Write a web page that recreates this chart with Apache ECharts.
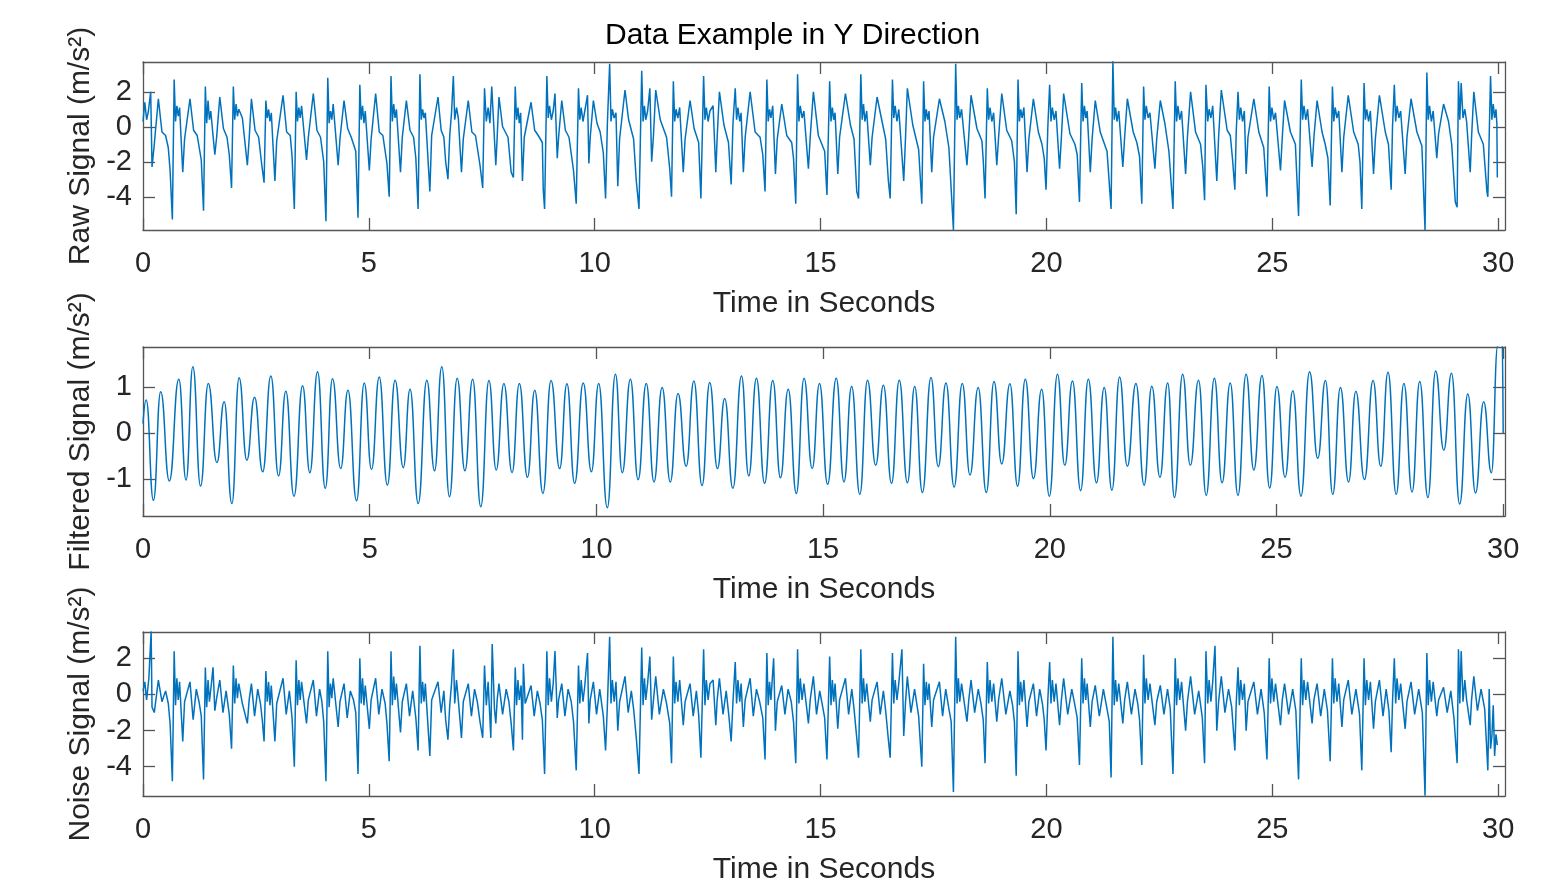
<!DOCTYPE html>
<html>
<head>
<meta charset="utf-8">
<title>Data Example in Y Direction</title>
<script src="https://cdn.jsdelivr.net/npm/echarts@6/dist/echarts.min.js"></script>
<style>
  html, body { margin: 0; padding: 0; background: #fff; }
  #main { width: 1560px; height: 886px; }
</style>
</head>
<body>
<div id="main"></div>
<script>
// tick labels
const timeTicks = [0, 5, 10, 15, 20, 25, 30];
const rawTicks = [-4, -2, 0, 2];
const filteredTicks = [-1, 0, 1];
const noiseTicks = [-4, -2, 0, 2];

// [time in s, acceleration in m/s^2]
const rawSignal = [
  [0.00,0.3],[0.04,1.4],[0.08,0.4],[0.12,0.9],[0.17,2.0],[0.20,-2.3],[0.25,-1.0],[0.34,1.6],[0.42,-0.3],[0.50,-0.5],[0.56,-1.2],
  [0.60,-2.5],[0.65,-5.3],[0.69,2.7],[0.72,0.3],[0.75,1.2],[0.78,0.6],[0.81,1.1],[0.88,-2.6],[0.92,-0.7],[1.04,1.6],[1.12,-0.2],[1.20,-0.5],
  [1.29,-1.9],[1.34,-4.8],[1.38,2.3],[1.41,0.2],[1.44,1.5],[1.47,0.4],[1.50,0.9],[1.59,-1.6],[1.63,-0.6],[1.70,1.7],[1.78,-0.1],[1.86,-0.6],
  [1.91,-1.6],[1.96,-3.5],[2.00,2.3],[2.03,0.4],[2.06,1.3],[2.09,0.6],[2.12,1.0],[2.20,0.5],[2.31,-2.2],[2.35,-0.7],[2.40,1.6],[2.48,-0.2],[2.56,-0.6],
  [2.63,-2.2],[2.68,-3.2],[2.72,1.5],[2.75,0.5],[2.78,1.0],[2.81,0.3],[2.84,0.8],[2.92,-3.1],[2.96,-0.8],[3.10,1.8],[3.18,-0.3],[3.26,-0.5],
  [3.30,-1.7],[3.35,-4.7],[3.39,2.0],[3.42,0.3],[3.45,1.1],[3.48,0.5],[3.51,1.2],[3.62,-1.9],[3.66,-0.6],[3.77,1.9],[3.85,-0.2],[3.93,-0.6],
  [4.00,-2.0],[4.05,-5.4],[4.09,2.8],[4.12,0.2],[4.15,0.9],[4.18,0.4],[4.21,1.3],[4.32,-2.2],[4.36,-0.7],[4.45,1.5],[4.53,-0.1],[4.61,-0.6],
  [4.71,-1.4],[4.76,-5.2],[4.80,2.4],[4.83,0.4],[4.86,1.2],[4.89,0.2],[4.92,0.9],[5.01,-2.5],[5.05,-0.7],[5.15,1.9],[5.23,-0.3],[5.31,-0.5],
  [5.40,-2.1],[5.45,-4.0],[5.49,2.9],[5.52,0.3],[5.55,1.3],[5.58,0.5],[5.61,1.0],[5.70,-2.6],[5.74,-0.6],[5.83,1.5],[5.91,-0.2],[5.99,-0.6],
  [6.04,-1.8],[6.09,-4.7],[6.13,3.0],[6.16,0.4],[6.19,1.0],[6.22,0.5],[6.25,0.8],[6.35,-3.7],[6.39,-0.5],[6.53,1.7],[6.60,-0.2],[6.66,-0.6],
  [6.70,-2.0],[6.75,-3.0],[6.79,-0.5],[6.83,0.8],[6.87,2.9],[6.90,0.4],[6.94,1.1],[6.98,0.5],[7.05,-2.6],[7.09,-0.7],[7.20,1.5],[7.28,-0.3],[7.36,-0.5],
  [7.46,-2.2],[7.52,-3.5],[7.56,2.2],[7.60,0.3],[7.64,1.1],[7.68,0.2],[7.72,2.3],[7.81,-2.2],[7.84,-0.6],[7.88,1.7],[7.96,0.0],[8.08,-0.6],
  [8.15,-2.6],[8.20,-2.9],[8.24,2.3],[8.27,0.4],[8.30,1.1],[8.33,0.2],[8.36,0.8],[8.40,-3.1],[8.44,-0.6],[8.59,1.4],[8.67,-0.2],[8.75,-0.5],
  [8.84,-0.9],[8.86,-3.6],[8.89,-4.7],[8.94,2.9],[8.97,0.5],[9.00,1.2],[9.04,0.4],[9.08,0.9],[9.12,1.9],[9.17,-1.8],[9.20,-0.6],[9.27,1.5],[9.35,-0.2],[9.43,-0.6],
  [9.53,-2.5],[9.59,-4.4],[9.64,2.2],[9.67,0.4],[9.70,1.1],[9.74,0.3],[9.78,0.9],[9.84,1.8],[9.87,-2.1],[9.90,-0.6],[9.97,1.5],[10.05,0.2],[10.12,-0.3],
  [10.19,-1.5],[10.24,-4.1],[10.28,0.2],[10.33,3.6],[10.36,0.3],[10.39,1.0],[10.43,0.5],[10.47,0.8],[10.51,-3.4],[10.55,-0.7],[10.67,2.1],[10.75,0.4],
  [10.86,-0.7],[10.92,-3.1],[10.98,-4.7],[11.04,3.2],[11.07,0.3],[11.10,1.2],[11.13,0.4],[11.17,0.9],[11.22,2.2],[11.26,-2.0],[11.30,-0.5],[11.35,2.1],[11.45,0.4],[11.59,-0.6],
  [11.66,-2.4],[11.70,-4.0],[11.74,2.6],[11.77,0.3],[11.80,1.0],[11.84,0.5],[11.88,1.1],[11.96,-2.6],[12.00,-0.7],[12.11,1.5],[12.20,-0.1],
  [12.30,-0.9],[12.35,-4.1],[12.41,2.9],[12.44,0.4],[12.47,1.1],[12.51,0.3],[12.55,0.9],[12.62,1.2],[12.68,-2.6],[12.71,-0.6],[12.76,2.0],[12.86,0.1],
  [12.96,-0.9],[13.02,-3.3],[13.06,0.2],[13.11,2.2],[13.14,0.4],[13.17,1.1],[13.21,0.3],[13.24,0.8],[13.29,-2.6],[13.33,-0.6],[13.44,2.0],[13.55,-0.3],[13.66,-0.6],
  [13.72,-1.6],[13.77,-3.7],[13.81,2.7],[13.84,0.3],[13.87,1.0],[13.90,0.5],[13.94,1.2],[14.00,-2.7],[14.04,-0.7],[14.14,1.3],[14.25,-0.5],[14.36,-0.9],
  [14.40,-1.8],[14.45,-4.4],[14.49,3.0],[14.52,0.3],[14.55,1.2],[14.59,0.5],[14.63,0.9],[14.73,-2.4],[14.77,-0.6],[14.84,2.0],[14.95,-0.5],[15.09,-1.4],
  [15.14,-3.9],[15.20,2.6],[15.23,0.3],[15.26,1.1],[15.29,0.4],[15.32,0.8],[15.38,-2.7],[15.42,-0.6],[15.55,1.9],[15.66,0.1],[15.74,-0.7],
  [15.80,-3.7],[15.84,-4.1],[15.89,3.0],[15.92,0.4],[15.95,1.3],[15.98,0.3],[16.02,0.9],[16.10,-2.2],[16.14,-0.6],[16.25,1.7],[16.36,0.3],[16.44,-0.7],
  [16.50,-3.1],[16.54,-4.1],[16.59,2.7],[16.62,0.5],[16.65,1.2],[16.69,0.3],[16.73,1.0],[16.84,-3.1],[16.88,-0.6],[16.92,2.2],[17.04,0.1],[17.17,-1.3],
  [17.24,-4.4],[17.28,2.6],[17.31,0.3],[17.34,1.0],[17.37,0.4],[17.40,0.9],[17.46,-2.6],[17.50,-0.6],[17.63,1.6],[17.75,0.3],[17.84,-1.2],
  [17.94,-5.9],[17.99,3.6],[18.02,0.4],[18.05,1.2],[18.08,0.5],[18.12,1.0],[18.24,-2.2],[18.28,-0.5],[18.33,1.8],[18.46,-0.1],[18.57,-0.8],
  [18.60,-1.9],[18.64,-4.1],[18.69,2.2],[18.72,0.4],[18.75,1.1],[18.79,0.3],[18.83,0.8],[18.90,-2.2],[18.94,-0.6],[19.01,1.9],[19.12,-0.2],[19.23,-0.8],
  [19.29,-2.0],[19.33,-5.0],[19.37,2.7],[19.40,0.3],[19.43,1.0],[19.46,0.5],[19.50,1.1],[19.57,-2.6],[19.61,-0.7],[19.71,1.6],[19.82,-0.3],[19.90,-1.0],
  [19.95,-1.8],[19.99,-3.6],[20.03,0.0],[20.07,2.4],[20.10,0.3],[20.13,1.1],[20.17,0.4],[20.21,0.9],[20.29,-2.4],[20.33,-0.6],[20.38,1.9],[20.52,-0.4],[20.63,-1.0],
  [20.68,-1.6],[20.73,-4.3],[20.78,2.5],[20.81,0.3],[20.84,1.2],[20.87,0.5],[20.90,0.9],[20.97,-2.6],[21.01,-0.7],[21.08,1.5],[21.19,-0.3],[21.34,-1.4],
  [21.43,-4.7],[21.47,3.8],[21.50,0.4],[21.53,1.1],[21.56,0.3],[21.60,0.9],[21.69,-2.3],[21.73,-0.6],[21.79,1.6],[21.92,-0.3],[22.00,-0.9],
  [22.06,-1.7],[22.11,-4.4],[22.15,2.3],[22.18,0.4],[22.21,1.2],[22.25,0.5],[22.29,0.8],[22.40,-2.4],[22.44,-0.7],[22.52,1.5],[22.62,0.2],[22.71,-1.4],
  [22.80,-4.7],[22.85,2.6],[22.88,0.3],[22.91,1.2],[22.95,0.4],[22.99,0.9],[23.08,-2.7],[23.12,-0.6],[23.19,2.0],[23.30,-0.3],[23.41,-1.0],
  [23.46,-2.3],[23.50,-4.2],[23.53,2.4],[23.57,0.3],[23.60,1.0],[23.64,0.5],[23.68,1.2],[23.77,-3.1],[23.81,-0.6],[23.87,2.1],[24.00,-0.2],[24.07,-0.5],
  [24.12,-1.9],[24.17,-3.6],[24.20,-0.3],[24.24,2.0],[24.27,0.4],[24.30,1.1],[24.34,0.3],[24.38,0.9],[24.42,-2.7],[24.46,-0.6],[24.59,1.6],[24.70,-0.3],[24.81,-1.2],
  [24.88,-4.0],[24.93,2.3],[24.96,0.3],[24.99,1.1],[25.03,0.4],[25.07,0.8],[25.18,-2.5],[25.22,-0.6],[25.27,1.5],[25.40,-0.3],[25.51,-1.0],
  [25.58,-5.1],[25.64,2.7],[25.67,0.4],[25.70,1.2],[25.74,0.4],[25.78,1.0],[25.88,-2.3],[25.92,-0.6],[25.99,1.5],[26.10,-0.3],[26.17,-1.0],
  [26.23,-1.8],[26.28,-4.5],[26.33,2.3],[26.36,0.3],[26.39,1.1],[26.43,0.5],[26.47,0.9],[26.54,-2.6],[26.58,-0.6],[26.68,1.8],[26.80,-0.3],[26.90,-1.0],
  [26.94,-2.0],[26.98,-4.7],[27.03,2.5],[27.06,0.4],[27.09,1.0],[27.13,0.3],[27.17,0.9],[27.24,-2.7],[27.28,-0.7],[27.37,1.8],[27.50,-0.3],[27.57,-1.0],
  [27.63,-3.6],[27.66,0.0],[27.70,2.4],[27.73,0.3],[27.76,1.2],[27.80,0.5],[27.84,0.9],[27.94,-2.7],[27.98,-0.6],[28.07,1.6],[28.20,-0.3],[28.31,-1.1],
  [28.38,-5.9],[28.42,3.1],[28.45,0.4],[28.48,1.2],[28.52,0.3],[28.56,0.9],[28.64,-1.8],[28.68,-0.4],[28.79,1.3],[28.90,0.3],[28.97,-1.0],
  [29.05,-4.3],[29.09,-4.6],[29.12,2.6],[29.15,0.4],[29.18,2.5],[29.22,0.5],[29.26,1.0],[29.30,0.3],[29.38,-2.6],[29.41,-0.6],[29.46,2.0],[29.56,-0.3],[29.67,-1.0],
  [29.75,-3.7],[29.77,-4.0],[29.83,2.9],[29.86,0.4],[29.89,1.3],[29.92,0.5],[29.95,1.0],[29.97,0.2],[29.98,-2.9]
];

// peaks and troughs of the band-passed signal
const filteredSignal = [
  [0.00,0.21],[0.07,0.72],[0.23,-1.46],[0.39,0.90],[0.58,-1.04],[0.79,1.17],[0.95,-1.02],[1.10,1.44],[1.27,-1.15],[1.44,1.08],
  [1.63,-0.64],[1.79,0.68],[1.96,-1.53],[2.12,1.20],[2.29,-0.59],[2.46,0.78],[2.64,-0.84],[2.82,1.24],[2.99,-0.93],[3.15,0.91],
  [3.33,-1.37],[3.52,1.03],[3.68,-0.86],[3.85,1.33],[4.02,-1.20],[4.18,1.18],[4.36,-0.77],[4.52,0.93],[4.71,-1.47],[4.88,1.09],
  [5.04,-0.79],[5.21,1.22],[5.39,-1.13],[5.56,1.15],[5.74,-0.75],[5.89,0.95],[6.07,-1.53],[6.26,1.15],[6.43,-0.82],[6.59,1.44],
  [6.76,-1.38],[6.93,1.19],[7.10,-0.82],[7.27,1.17],[7.45,-1.60],[7.63,1.14],[7.79,-0.80],[7.96,1.08],[8.14,-0.86],[8.30,1.08],
  [8.48,-0.96],[8.64,0.93],[8.82,-1.31],[9.00,1.14],[9.19,-0.77],[9.35,1.07],[9.52,-1.09],[9.71,1.09],[9.89,-0.84],[10.05,1.08],
  [10.24,-1.62],[10.42,1.28],[10.57,-0.86],[10.75,1.17],[10.92,-1.01],[11.10,1.08],[11.27,-1.06],[11.45,0.99],[11.63,-1.06],[11.80,0.86],
  [11.98,-0.72],[12.15,1.13],[12.33,-1.14],[12.50,1.10],[12.67,-0.77],[12.83,0.75],[13.01,-1.20],[13.20,1.24],[13.36,-0.93],[13.53,1.19],
  [13.71,-1.09],[13.89,1.14],[14.06,-0.97],[14.23,0.95],[14.41,-1.31],[14.58,1.19],[14.76,-0.77],[14.92,1.08],[15.10,-1.11],[15.29,1.19],
  [15.46,-1.06],[15.63,1.01],[15.81,-1.33],[15.98,1.15],[16.16,-0.70],[16.33,1.04],[16.51,-1.09],[16.68,1.15],[16.86,-1.08],[17.02,1.01],
  [17.19,-1.29],[17.38,1.21],[17.54,-0.73],[17.71,1.09],[17.89,-1.17],[18.07,1.08],[18.24,-0.91],[18.42,0.99],[18.60,-1.29],[18.77,1.12],
  [18.94,-0.67],[19.12,1.07],[19.29,-1.15],[19.46,1.17],[19.64,-0.99],[19.82,0.95],[19.99,-1.37],[20.17,1.28],[20.33,-0.70],[20.50,1.13],
  [20.68,-1.25],[20.85,1.17],[21.03,-1.08],[21.20,0.99],[21.37,-1.24],[21.54,1.22],[21.71,-0.72],[21.90,1.08],[22.08,-1.13],[22.25,1.02],
  [22.43,-0.96],[22.60,1.09],[22.75,-1.40],[22.93,1.28],[23.10,-0.70],[23.28,1.15],[23.45,-1.35],[23.63,1.19],[23.80,-1.08],[23.98,1.09],
  [24.15,-1.35],[24.33,1.28],[24.50,-0.80],[24.68,1.25],[24.85,-1.19],[25.01,1.01],[25.19,-0.96],[25.36,0.92],[25.54,-1.37],[25.73,1.33],
  [25.91,-0.55],[26.08,1.14],[26.24,-1.33],[26.41,0.99],[26.59,-1.06],[26.75,0.91],[26.94,-1.01],[27.13,1.14],[27.30,-0.72],[27.46,1.32],
  [27.64,-1.33],[27.81,1.08],[27.99,-1.28],[28.16,1.12],[28.34,-1.40],[28.51,1.35],[28.69,-0.37],[28.86,1.30],[29.04,-1.54],[29.22,0.85],
  [29.39,-1.30],[29.57,0.68],[29.74,-0.86],[29.88,1.90],[29.97,2.40],[30.00,0.00]
];

const noiseSignal = [
  [0.00,0.2],[0.04,0.7],[0.08,-0.3],[0.13,0.9],[0.18,3.5],[0.20,-0.7],[0.25,-1.0],[0.34,0.8],[0.42,-0.4],[0.50,0.2],[0.56,-0.5],
  [0.60,-1.6],[0.65,-4.8],[0.69,2.4],[0.72,-0.6],[0.75,0.9],[0.78,-0.3],[0.81,0.7],[0.88,-2.6],[0.92,-0.4],[1.04,0.7],[1.11,-1.4],[1.18,0.3],[1.24,-0.4],
  [1.29,-1.2],[1.34,-4.7],[1.38,1.5],[1.41,-0.7],[1.44,0.8],[1.47,-0.4],[1.51,0.5],[1.55,1.5],[1.59,-0.9],[1.63,-0.2],[1.70,0.8],[1.77,-1.0],[1.84,0.2],
  [1.91,-1.1],[1.96,-3.0],[2.00,1.6],[2.03,-0.5],[2.06,0.9],[2.09,-0.2],[2.12,0.6],[2.20,-0.5],[2.31,-1.6],[2.35,-0.3],[2.40,0.6],[2.47,-1.2],[2.54,0.3],[2.60,-0.5],
  [2.64,-1.4],[2.68,-2.6],[2.72,1.3],[2.75,-0.4],[2.78,0.7],[2.81,-0.6],[2.84,0.5],[2.92,-2.6],[2.96,-0.5],[3.10,0.9],[3.17,-1.1],[3.24,0.2],
  [3.30,-1.3],[3.35,-4.0],[3.39,1.9],[3.42,-0.6],[3.45,0.8],[3.48,-0.3],[3.51,0.7],[3.62,-1.6],[3.66,-0.3],[3.77,0.8],[3.84,-1.2],[3.91,0.3],[3.96,-0.4],
  [4.00,-1.5],[4.05,-4.8],[4.09,2.4],[4.12,-0.7],[4.15,0.6],[4.18,-0.2],[4.21,0.9],[4.32,-1.8],[4.36,-0.4],[4.45,0.6],[4.52,-1.3],[4.59,0.2],[4.66,-0.3],
  [4.71,-1.0],[4.76,-4.4],[4.80,2.0],[4.83,-0.5],[4.86,0.9],[4.89,-0.6],[4.92,0.5],[5.01,-1.9],[5.05,-0.3],[5.15,0.9],[5.22,-1.1],[5.29,0.3],[5.36,-0.5],
  [5.40,-1.6],[5.45,-3.7],[5.49,2.4],[5.52,-0.6],[5.55,1.0],[5.58,-0.3],[5.61,0.6],[5.70,-2.1],[5.74,-0.4],[5.83,0.6],[5.90,-1.2],[5.97,0.2],
  [6.04,-1.3],[6.09,-3.1],[6.13,2.7],[6.16,-0.5],[6.19,0.7],[6.22,-0.4],[6.25,0.6],[6.35,-3.4],[6.39,-0.3],[6.53,0.7],[6.60,-1.0],[6.66,0.2],
  [6.70,-1.4],[6.75,-2.5],[6.79,-0.6],[6.83,0.6],[6.87,2.5],[6.90,-0.5],[6.94,0.8],[6.98,-0.3],[7.05,-2.4],[7.09,-0.4],[7.20,0.6],[7.27,-1.2],[7.34,0.3],[7.40,-0.4],
  [7.46,-1.5],[7.52,-2.4],[7.56,1.6],[7.60,-0.6],[7.64,0.7],[7.70,-2.4],[7.73,2.8],[7.78,-0.8],[7.81,-1.6],[7.84,-0.3],[7.88,0.6],[7.96,-1.1],[8.04,0.3],[8.10,-0.4],
  [8.15,-1.6],[8.20,-3.1],[8.24,1.5],[8.27,-0.6],[8.30,0.8],[8.33,-0.3],[8.37,0.5],[8.40,-2.5],[8.42,1.7],[8.46,-0.5],[8.59,0.5],[8.66,-1.2],[8.73,0.2],[8.79,-0.5],
  [8.84,-1.4],[8.89,-4.4],[8.94,2.4],[8.97,-0.6],[9.00,0.9],[9.04,-0.4],[9.08,0.6],[9.12,2.4],[9.17,-1.3],[9.20,-0.3],[9.27,0.6],[9.34,-1.2],[9.41,0.3],[9.48,-0.4],
  [9.53,-1.5],[9.59,-4.2],[9.64,1.6],[9.67,-0.5],[9.70,0.8],[9.74,-0.4],[9.78,0.5],[9.84,2.3],[9.87,-1.6],[9.90,-0.3],[9.97,0.7],[10.04,-1.1],[10.11,0.3],
  [10.19,-1.2],[10.24,-3.1],[10.28,-0.6],[10.33,3.2],[10.36,-0.5],[10.39,0.8],[10.43,-0.4],[10.47,0.7],[10.51,-2.0],[10.55,-0.4],[10.67,1.0],[10.74,-1.0],[10.81,0.2],
  [10.86,-0.8],[10.92,-2.4],[10.98,-4.4],[11.04,2.6],[11.07,-0.6],[11.10,0.9],[11.13,-0.3],[11.17,0.6],[11.22,2.1],[11.26,-1.4],[11.30,-0.3],[11.35,1.0],[11.43,-1.1],[11.52,0.3],[11.59,-0.5],
  [11.66,-1.6],[11.70,-3.8],[11.74,2.1],[11.77,-0.5],[11.80,0.7],[11.84,-0.4],[11.88,0.8],[11.96,-1.7],[12.00,-0.4],[12.11,0.6],[12.18,-1.2],[12.25,0.2],
  [12.30,-1.1],[12.35,-3.5],[12.41,2.5],[12.44,-0.6],[12.47,0.8],[12.51,-0.3],[12.55,0.6],[12.62,0.8],[12.68,-1.7],[12.71,-0.3],[12.76,0.9],[12.84,-1.1],[12.91,0.2],
  [12.97,-1.2],[13.02,-2.6],[13.06,-0.4],[13.11,1.8],[13.14,-0.5],[13.17,0.8],[13.21,-0.4],[13.24,0.6],[13.29,-1.8],[13.33,-0.3],[13.44,0.9],[13.51,-1.2],[13.58,0.3],[13.65,-0.4],
  [13.72,-1.3],[13.77,-3.6],[13.81,2.3],[13.84,-0.6],[13.87,0.7],[13.90,-0.3],[13.96,2.0],[14.00,-2.0],[14.04,-0.4],[14.14,0.5],[14.21,-1.1],[14.28,0.3],[14.35,-0.4],
  [14.40,-1.5],[14.45,-3.8],[14.49,2.5],[14.52,-0.5],[14.55,0.9],[14.59,-0.3],[14.63,0.6],[14.73,-1.6],[14.77,-0.3],[14.84,1.0],[14.91,-1.1],[14.98,0.2],[15.04,-0.6],
  [15.09,-1.3],[15.14,-3.6],[15.20,2.1],[15.23,-0.6],[15.26,0.8],[15.29,-0.4],[15.32,0.6],[15.38,-1.9],[15.42,-0.3],[15.55,0.9],[15.62,-1.1],[15.69,0.3],
  [15.74,-0.8],[15.80,-2.4],[15.84,-3.5],[15.89,2.5],[15.92,-0.5],[15.95,0.9],[15.98,-0.4],[16.02,0.6],[16.10,-1.5],[16.14,-0.3],[16.25,0.7],[16.32,-1.1],[16.39,0.2],
  [16.44,-0.9],[16.50,-2.5],[16.54,-3.5],[16.59,2.3],[16.62,-0.5],[16.65,0.8],[16.69,-0.3],[16.73,0.6],[16.80,2.5],[16.84,-2.3],[16.88,-0.4],[16.92,1.0],[17.00,-1.0],[17.08,0.3],
  [17.17,-1.2],[17.24,-4.0],[17.28,1.7],[17.31,-0.6],[17.34,0.7],[17.37,-0.3],[17.40,0.6],[17.46,-1.8],[17.50,-0.3],[17.63,0.7],[17.70,-1.2],[17.77,0.3],[17.84,-0.8],
  [17.89,-1.5],[17.94,-5.4],[17.99,3.2],[18.02,-0.5],[18.05,0.9],[18.08,-0.4],[18.12,0.6],[18.24,-1.5],[18.28,-0.3],[18.33,0.8],[18.41,-1.0],[18.49,0.3],[18.55,-0.5],
  [18.60,-1.4],[18.64,-3.8],[18.69,1.8],[18.72,-0.5],[18.75,0.8],[18.79,-0.4],[18.83,0.6],[18.90,-1.5],[18.94,-0.3],[19.01,0.9],[19.10,-1.1],[19.19,0.2],[19.25,-0.6],
  [19.29,-1.5],[19.33,-4.5],[19.37,2.4],[19.40,-0.6],[19.43,0.7],[19.46,-0.4],[19.50,0.8],[19.57,-1.8],[19.61,-0.4],[19.71,0.6],[19.78,-1.2],[19.85,0.3],[19.91,-0.5],
  [19.95,-1.4],[19.99,-3.1],[20.03,-0.3],[20.07,1.8],[20.10,-0.5],[20.13,0.8],[20.17,-0.4],[20.21,0.6],[20.29,-1.7],[20.33,-0.3],[20.38,0.9],[20.47,-1.1],[20.56,0.3],[20.63,-0.6],
  [20.68,-1.3],[20.73,-3.9],[20.78,2.0],[20.81,-0.5],[20.84,0.9],[20.87,-0.3],[20.90,0.6],[20.97,-1.8],[21.01,-0.4],[21.08,0.5],[21.17,-1.2],[21.26,0.3],[21.34,-0.8],
  [21.39,-1.5],[21.43,-4.6],[21.47,3.2],[21.50,-0.6],[21.53,0.8],[21.56,-0.4],[21.60,0.6],[21.69,-1.6],[21.73,-0.3],[21.79,0.7],[21.88,-1.1],[21.96,0.3],[22.02,-0.5],
  [22.06,-1.4],[22.11,-3.9],[22.15,2.2],[22.18,-0.5],[22.21,0.9],[22.25,-0.3],[22.29,0.6],[22.40,-1.7],[22.44,-0.4],[22.52,0.5],[22.60,-1.1],[22.68,0.3],[22.74,-0.8],
  [22.80,-4.4],[22.85,2.0],[22.88,-0.6],[22.91,0.9],[22.95,-0.3],[22.99,0.7],[23.08,-2.0],[23.12,-0.4],[23.19,1.0],[23.28,-1.1],[23.37,0.2],[23.45,-1.3],
  [23.50,-3.8],[23.53,2.4],[23.57,-0.5],[23.60,0.8],[23.64,-0.4],[23.68,0.7],[23.73,2.7],[23.77,-2.0],[23.81,-0.4],[23.87,1.0],[23.95,-1.0],[24.03,0.3],[24.10,-0.7],
  [24.17,-3.1],[24.20,-0.5],[24.24,1.5],[24.27,-0.6],[24.30,0.8],[24.34,-0.3],[24.38,0.6],[24.42,-2.0],[24.46,-0.4],[24.59,0.7],[24.67,-1.1],[24.75,0.3],[24.82,-1.0],
  [24.88,-3.6],[24.93,2.0],[24.96,-0.5],[24.99,0.9],[25.03,-0.4],[25.07,0.6],[25.18,-1.7],[25.22,-0.3],[25.27,0.6],[25.36,-1.1],[25.45,0.3],[25.52,-0.9],
  [25.58,-4.7],[25.64,2.0],[25.67,-0.6],[25.70,0.8],[25.74,-0.3],[25.78,0.7],[25.88,-1.6],[25.92,-0.3],[25.99,0.6],[26.07,-1.2],[26.15,0.3],[26.22,-0.9],
  [26.28,-3.7],[26.33,2.0],[26.36,-0.5],[26.39,0.9],[26.43,-0.4],[26.47,0.6],[26.54,-1.8],[26.58,-0.3],[26.68,0.8],[26.76,-1.1],[26.85,0.3],[26.93,-1.1],
  [26.98,-4.2],[27.03,2.0],[27.06,-0.6],[27.09,0.8],[27.13,-0.3],[27.17,0.7],[27.24,-1.9],[27.28,-0.4],[27.37,0.8],[27.45,-1.2],[27.52,0.3],[27.58,-0.9],
  [27.63,-3.2],[27.66,-0.4],[27.70,2.0],[27.73,-0.5],[27.76,0.9],[27.80,-0.3],[27.84,0.6],[27.94,-1.9],[27.98,-0.4],[28.07,0.7],[28.15,-1.1],[28.24,0.3],[28.32,-1.0],
  [28.38,-5.6],[28.42,2.3],[28.45,-0.6],[28.48,0.8],[28.52,-0.4],[28.56,0.7],[28.64,-1.2],[28.68,-0.3],[28.79,0.4],[28.87,-1.0],[28.95,0.2],[29.02,-1.3],
  [29.09,-3.8],[29.12,2.5],[29.15,-0.5],[29.18,2.4],[29.22,-0.4],[29.26,0.8],[29.30,-0.3],[29.38,-1.7],[29.41,-0.3],[29.46,1.0],[29.54,-0.9],[29.62,0.3],[29.70,-0.8],
  [29.77,-4.2],[29.80,0.3],[29.83,-3.0],[29.86,-2.3],[29.89,-0.6],[29.92,-3.4],[29.95,-2.2],[29.98,-2.8]
];

const FONT = '"Liberation Sans", Arial, Helvetica, sans-serif';
const AXIS_COLOR = '#555555';
const TEXT_COLOR = '#262626';
const LINE_COLOR = '#0072BD';

const panels = [
  { yName: 'Raw Signal (m/s²)', data: rawSignal, smooth: false, yMin: -5.9, yMax: 3.7, yTicks: rawTicks, xMax: 30.15, top: 62, height: 168 },
  { yName: 'Filtered Signal (m/s²)', data: filteredSignal, smooth: 0.5, yMin: -1.8, yMax: 1.87, yTicks: filteredTicks, xMax: 30.04, top: 347, height: 169 },
  { yName: 'Noise Signal (m/s²)', data: noiseSignal, smooth: false, yMin: -5.62, yMax: 3.46, yTicks: noiseTicks, xMax: 30.15, top: 632, height: 168 }
];

const axisLine = { show: true, onZero: false, lineStyle: { color: AXIS_COLOR, width: 1.3 } };

function tick(values) {
  return { show: true, inside: true, length: 12, customValues: values, lineStyle: { color: AXIS_COLOR, width: 1.3 } };
}

let grid = [], xAxis = [], yAxis = [], series = [];
panels.forEach((p, i) => {
  grid.push({ left: 143, width: 1362, top: p.top, height: p.height });
  // bottom axis with labels, top axis only for the box and ticks
  xAxis.push({
    type: 'value', gridIndex: i, position: 'bottom', min: 0, max: p.xMax,
    name: 'Time in Seconds', nameLocation: 'middle', nameGap: 59,
    nameTextStyle: { fontFamily: FONT, fontSize: 30, color: TEXT_COLOR },
    axisLine: axisLine, axisTick: tick(timeTicks), splitLine: { show: false },
    axisLabel: { customValues: timeTicks, margin: 19, fontFamily: FONT, fontSize: 29, color: TEXT_COLOR }
  });
  xAxis.push({
    type: 'value', gridIndex: i, position: 'top', min: 0, max: p.xMax,
    axisLine: axisLine, axisTick: tick(timeTicks), splitLine: { show: false }, axisLabel: { show: false }
  });
  yAxis.push({
    type: 'value', gridIndex: i, position: 'left', min: p.yMin, max: p.yMax,
    name: p.yName, nameLocation: 'middle', nameGap: 47,
    nameTextStyle: { fontFamily: FONT, fontSize: 30, color: TEXT_COLOR },
    axisLine: axisLine, axisTick: tick(p.yTicks), splitLine: { show: false },
    axisLabel: { customValues: p.yTicks, margin: 11, fontFamily: FONT, fontSize: 29, color: TEXT_COLOR }
  });
  yAxis.push({
    type: 'value', gridIndex: i, position: 'right', min: p.yMin, max: p.yMax,
    axisLine: axisLine, axisTick: tick(p.yTicks), splitLine: { show: false }, axisLabel: { show: false }
  });
  series.push({
    type: 'line', xAxisIndex: 2 * i, yAxisIndex: 2 * i, data: p.data,
    smooth: p.smooth, smoothMonotone: 'x', showSymbol: false, symbol: 'none', clip: true,
    lineStyle: { color: LINE_COLOR, width: 1.5 }
  });
});

let chart = echarts.init(document.getElementById('main'));
let option = {
  backgroundColor: '#ffffff',
  animation: false,
  title: {
    text: 'Data Example in Y Direction', left: 605, top: 21, padding: 0,
    textStyle: { fontFamily: FONT, fontSize: 30, fontWeight: 'normal', color: '#000000' }
  },
  grid: grid,
  xAxis: xAxis,
  yAxis: yAxis,
  series: series
};
chart.setOption(option);
</script>
</body>
</html>
